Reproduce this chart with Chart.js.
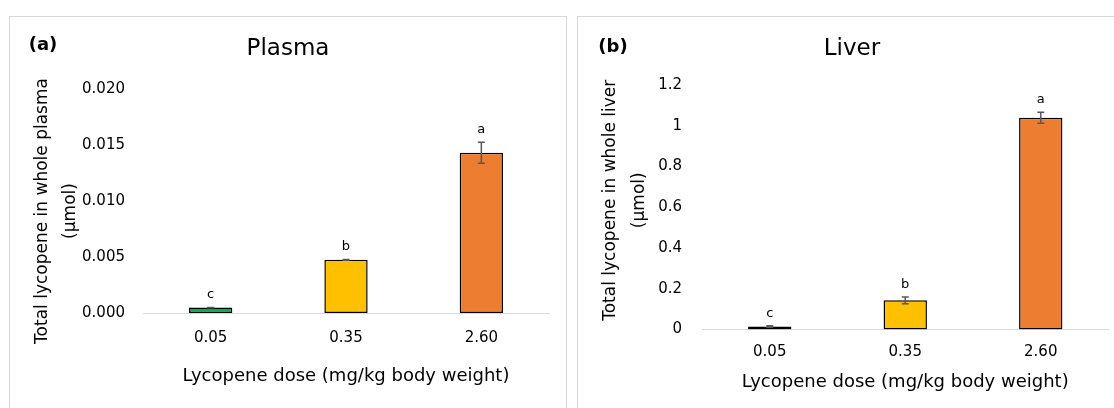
<!DOCTYPE html>
<html>
<head>
<meta charset="utf-8">
<script src="https://cdn.jsdelivr.net/npm/chart.js@4"></script>
<style>
  html, body { margin: 0; padding: 0; background: #fff; width: 1114px; height: 408px; overflow: hidden; }
  .panel { position: absolute; top: 16px; border: 1px solid #d9d9d9; background: #fff; }
  #panelA { left: 9px; width: 556px; height: 400px; }
  #panelB { left: 577px; width: 548px; height: 400px; }
  canvas { display: block; }
</style>
</head>
<body>
<div class="panel" id="panelA"><canvas id="plasmaChart" width="556" height="391"></canvas></div>
<div class="panel" id="panelB"><canvas id="liverChart" width="548" height="391"></canvas></div>
<script>
var doses = ['0.05', '0.35', '2.60'];
var barColors = ['#00b050', '#ffc000', '#ed7d31'];

var plasmaValues = [0.00048, 0.00475, 0.0143];
var plasmaErrors = [0.00002, 0.00003, 0.00094];
var plasmaLetters = ['c', 'b', 'a'];

var liverValues = [0.015, 0.143, 1.039];
var liverErrors = [0.004, 0.017, 0.027];
var liverLetters = ['c', 'b', 'a'];

var FONT = '"DejaVu Sans", sans-serif';

// error bars, significance letters, panel tag and the two-line y title
var annotatePlugin = {
    id: 'annotate',
    afterDatasetsDraw: function(chart, args, opts) {
        var ctx = chart.ctx;
        var yScale = chart.scales.y;
        var data = chart.data.datasets[0].data;
        ctx.save();
        chart.getDatasetMeta(0).data.forEach(function(bar, i) {
            var top = yScale.getPixelForValue(data[i] + opts.errors[i]);
            var bot = yScale.getPixelForValue(data[i] - opts.errors[i]);
            ctx.strokeStyle = '#595959';
            ctx.lineWidth = 1.5;
            ctx.beginPath();
            ctx.moveTo(bar.x, top); ctx.lineTo(bar.x, bot);
            ctx.moveTo(bar.x - 3.5, top); ctx.lineTo(bar.x + 3.5, top);
            ctx.moveTo(bar.x - 3.5, bot); ctx.lineTo(bar.x + 3.5, bot);
            ctx.stroke();
            ctx.fillStyle = '#000';
            ctx.font = '13px ' + FONT;
            ctx.textAlign = 'center';
            ctx.textBaseline = 'alphabetic';
            ctx.fillText(opts.letters[i], bar.x, top - 9);
        });
        ctx.restore();
    },
    afterDraw: function(chart, args, opts) {
        var ctx = chart.ctx;
        var area = chart.chartArea;
        ctx.save();
        ctx.fillStyle = '#000';
        ctx.font = 'bold 18px ' + FONT;
        ctx.textAlign = 'center';
        ctx.textBaseline = 'middle';
        ctx.fillText(opts.tag, opts.tagX, opts.tagY);

        ctx.font = '17px ' + FONT;
        ctx.translate(area.left + opts.yTitleDx, (area.top + area.bottom) / 2 + opts.yTitleDy);
        ctx.rotate(-Math.PI / 2);
        ctx.fillText(opts.yTitle[0], 0, 0);
        ctx.fillText(opts.yTitle[1], 0, opts.yTitleGap);
        ctx.restore();
    }
};

function makeChart(id, s) {
    return new Chart(document.getElementById(id).getContext('2d'), {
        type: 'bar',
        data: {
            labels: doses,
            datasets: [{
                data: s.values,
                backgroundColor: barColors,
                borderColor: '#000',
                borderWidth: 1.5,
                borderSkipped: false,
                barPercentage: 0.32,
                categoryPercentage: 1
            }]
        },
        options: {
            responsive: false,
            animation: false,
            layout: { padding: { left: s.padSide, right: s.padSide, top: 0, bottom: s.padBottom } },
            plugins: {
                legend: { display: false },
                tooltip: { enabled: false },
                title: {
                    display: true,
                    text: s.title,
                    color: '#000',
                    font: { family: FONT, size: 23, weight: 'normal', lineHeight: 1.2 },
                    padding: { top: 18, bottom: s.titleGap }
                },
                annotate: {
                    errors: s.errors,
                    letters: s.letters,
                    tag: s.tag, tagX: s.tagX, tagY: s.tagY,
                    yTitle: s.yTitle, yTitleDx: s.yTitleDx, yTitleDy: s.yTitleDy, yTitleGap: s.yTitleGap
                }
            },
            scales: {
                x: {
                    grid: { display: false, drawTicks: false },
                    border: { display: true, color: '#d9d9d9', width: 1 },
                    ticks: { color: '#000', font: { family: FONT, size: 15 }, padding: s.xTickPad },
                    title: {
                        display: true,
                        text: 'Lycopene dose (mg/kg body weight)',
                        color: '#000',
                        font: { family: FONT, size: 18, lineHeight: 1 },
                        padding: { top: s.xTitlePad, bottom: 0 }
                    }
                },
                y: {
                    min: 0,
                    max: s.max,
                    grid: { display: false, drawTicks: false },
                    border: { display: false },
                    afterFit: function(scale) { scale.width = s.yWidth; },
                    ticks: {
                        stepSize: s.step,
                        color: '#000',
                        font: { family: FONT, size: 15 },
                        padding: s.yTickPad,
                        callback: s.fmt
                    }
                }
            }
        },
        plugins: [annotatePlugin]
    });
}

makeChart('plasmaChart', {
    values: plasmaValues, errors: plasmaErrors, letters: plasmaLetters,
    title: 'Plasma', tag: '(a)', tagX: 33, tagY: 28,
    max: 0.02, step: 0.005,
    fmt: function(v) { return v.toFixed(3); },
    yTitle: ['Total lycopene in whole plasma', '(\u00b5mol)'],
    yTitleDx: -100, yTitleDy: 10, yTitleGap: 28,
    yWidth: 116, yTickPad: 18,
    padSide: 17, padBottom: 22.3, titleGap: 26.4,
    xTickPad: 16.2, xTitlePad: 4.3
});

makeChart('liverChart', {
    values: liverValues, errors: liverErrors, letters: liverLetters,
    title: 'Liver', tag: '(b)', tagX: 35, tagY: 30,
    max: 1.2, step: 0.2,
    fmt: function(v) { return String(Number(v.toFixed(1))); },
    yTitle: ['Total lycopene in whole liver', '(\u00b5mol)'],
    yTitleDx: -91, yTitleDy: -7, yTitleGap: 29,
    yWidth: 106.5, yTickPad: 20,
    padSide: 17.5, padBottom: 16.3, titleGap: 22.4,
    xTickPad: 14.1, xTitlePad: -2
});
</script>
</body>
</html>
